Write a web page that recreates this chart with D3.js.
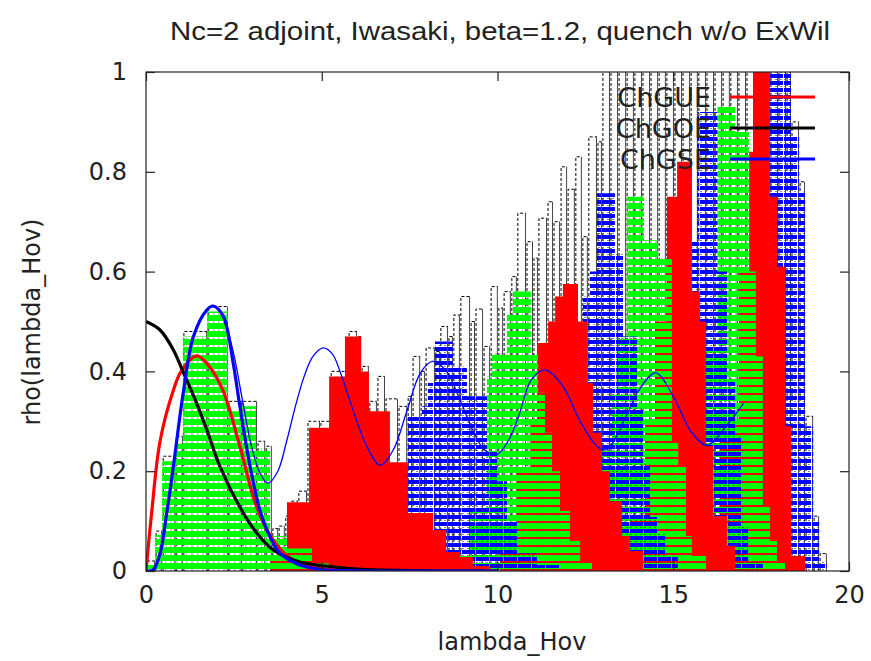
<!DOCTYPE html>
<html>
<head>
<meta charset="utf-8">
<script src="https://cdn.jsdelivr.net/npm/d3@7"></script>
<style>
  body { margin: 0; background: #fff; }
  svg { display: block; }
</style>
</head>
<body>
<div id="chart"></div>
<script>
// total density (dashed outline), bin edges + heights
var totalEdges = [0, 0.26, 0.46, 0.83, 1.05, 1.74, 2.33, 2.73, 3.16, 3.39, 3.58, 3.76, 3.95, 4.10, 4.32, 4.58, 4.95, 5.24, 5.75, 6.00,
  6.12, 6.34, 6.57, 6.80, 7.17, 7.43, 7.57, 7.80, 7.94, 8.22, 8.36, 8.59, 8.73, 8.93, 9.22, 9.36, 9.59, 9.79, 10.01, 10.16,
  10.38, 10.55, 10.81, 11.01, 11.15, 11.41, 11.58, 11.78, 11.98, 12.20, 12.40, 12.57, 12.83, 12.97, 13.20, 13.43, 13.66, 13.88,
  14.11, 14.34, 14.57, 14.79, 15.02, 15.25, 15.48, 15.70, 15.93, 16.16, 16.39, 16.61, 16.84, 17.07, 17.30, 17.53, 17.75, 17.98,
  18.21, 18.35, 18.58, 18.75, 18.98, 19.15, 19.37];
var totalHeights = [0.02, 0.08, 0.23, 0.27, 0.48, 0.53, 0.34, 0.34, 0.26, 0.25, 0.085, 0.09, 0.11, 0.14, 0.16, 0.30, 0.30, 0.40, 0.48,
  0.47, 0.41, 0.34, 0.39, 0.345, 0.33, 0.35, 0.43, 0.40, 0.447, 0.44, 0.49, 0.47, 0.513, 0.55, 0.50, 0.525, 0.45, 0.57, 0.527,
  0.56, 0.59, 0.717, 0.66, 0.627, 0.707, 0.74, 0.70, 0.81, 0.765, 0.83, 0.67, 0.87, 0.86,
  1.05, 1.05, 1.05, 1.05, 1.05, 1.05, 1.05, 1.05, 1.05, 1.05, 1.05, 1.05, 1.05, 1.05, 1.05, 1.05, 1.05, 1.05, 1.05, 1.05, 1.05,
  1.05, 1.05, 1.05, 0.9, 0.78, 0.31, 0.11, 0.035];

// k-th eigenvalue histograms
var g1Edges = [0, 0.26, 0.46, 0.83, 1.05, 1.74, 2.33, 2.73, 3.13, 3.53, 4.01, 4.72, 5.2];
var g1Heights = [0.012, 0.072, 0.22, 0.255, 0.47, 0.52, 0.32, 0.33, 0.245, 0.07, 0.045, 0.015];
var r2Edges = [3.53, 4.01, 4.64, 5.21, 5.66, 6.12, 6.34, 6.94, 7.45, 8.17, 8.54, 8.93, 9.30, 9.79];
var r2Heights = [0.03, 0.138, 0.287, 0.39, 0.47, 0.40, 0.32, 0.218, 0.116, 0.082, 0.038, 0.028, 0.01];
var b3Edges = [7.37, 7.45, 7.85, 8.02, 8.22, 8.73, 9.13, 9.70, 9.99, 10.27, 10.56, 11.12, 11.78];
var b3Heights = [0.21, 0.31, 0.33, 0.377, 0.46, 0.41, 0.35, 0.24, 0.18, 0.1, 0.035, 0.012];
var g4Edges = [8.65, 9.22, 9.70, 9.84, 10.27, 10.44, 10.95, 11.15, 11.35, 11.55, 11.78, 12.06, 12.35, 12.69];
var g4Heights = [0.03, 0.12, 0.39, 0.437, 0.517, 0.56, 0.437, 0.357, 0.277, 0.2, 0.12, 0.06, 0.02];
var r5Edges = [10.07, 10.56, 10.93, 11.15, 11.44, 11.64, 11.86, 12.29, 12.55, 12.72, 12.97, 13.20, 13.54, 13.77, 14.14];
var r5Heights = [0.08, 0.2, 0.3, 0.457, 0.50, 0.55, 0.575, 0.50, 0.377, 0.277, 0.2, 0.14, 0.07, 0.04];
var b6Edges = [11.21, 11.78, 12.15, 12.43, 12.63, 12.83, 13.34, 13.57, 13.97, 14.14, 14.34, 14.57, 14.77, 15.13];
var b6Heights = [0.1, 0.25, 0.4, 0.55, 0.6, 0.757, 0.637, 0.47, 0.326, 0.216, 0.108, 0.076, 0.03];
var g7Edges = [12.35, 12.97, 13.26, 13.43, 13.68, 14.14, 14.57, 14.96, 15.14, 15.36, 15.53, 15.93];
var g7Heights = [0.1, 0.25, 0.357, 0.47, 0.75, 0.663, 0.627, 0.26, 0.21, 0.07, 0.03];
var r8Edges = [13.77, 14.20, 14.48, 14.82, 15.11, 15.53, 15.76, 15.93, 16.13, 16.53, 16.76];
var r8Heights = [0.1, 0.3, 0.5, 0.75, 0.82, 0.56, 0.5, 0.25, 0.11, 0.05];
var b9Edges = [14.48, 15.11, 15.53, 15.68, 16.26, 16.56, 16.76, 16.96, 17.13, 17.55];
var b9Heights = [0.2, 0.4, 0.66, 0.92, 0.6, 0.38, 0.27, 0.09, 0.02];
var g10Edges = [15.19, 15.48, 15.76, 16.26, 16.76, 17.15, 17.35, 17.55, 17.75, 17.95, 18.18];
var g10Heights = [0.1, 0.25, 0.45, 0.93, 0.88, 0.6, 0.43, 0.13, 0.06, 0.02];
var r11Edges = [15.88, 16.33, 16.87, 17.16, 17.27, 17.75, 17.95, 18.18, 18.35, 18.75];
var r11Heights = [0.1, 0.3, 0.60, 0.84, 1.1, 0.75, 0.61, 0.29, 0.03];
var b12Edges = [16.62, 17.04, 17.47, 17.75, 18.35, 18.58, 18.75, 18.98, 19.15, 19.37];
var b12Heights = [0.1, 0.3, 0.6, 1.1, 0.87, 0.76, 0.29, 0.10, 0.02];

// RMT curves
var gueX = [0, 0.16, 0.4, 0.77, 1.0, 1.44, 1.8, 2.2, 2.67, 3.15, 3.62, 4.1, 4.6, 5.2, 6.0, 8.0, 10.0];
var gueY = [0, 0.116, 0.26, 0.36, 0.40, 0.431, 0.41, 0.36, 0.25, 0.128, 0.062, 0.026, 0.01, 0.003, 0.0005, 0, 0];
var goeX = [0, 0.4, 0.78, 1.05, 1.44, 1.73, 2.1, 2.67, 3.15, 3.62, 4.38, 5.1, 6.0, 8.0, 10.0];
var goeY = [0.50, 0.483, 0.443, 0.40, 0.336, 0.283, 0.21, 0.128, 0.076, 0.042, 0.018, 0.01, 0.004, 0.0005, 0];
var gseX = [0, 0.2, 0.4, 0.59, 0.78, 1.06, 1.35, 1.73, 1.91, 2.2, 2.48, 2.67, 2.96, 3.24, 3.53, 3.81, 4.38, 5.0, 6.0, 8.0, 10.0];
var gseY = [0, 0.002, 0.035, 0.116, 0.21, 0.357, 0.47, 0.523, 0.531, 0.51, 0.417, 0.33, 0.21, 0.122, 0.068, 0.036, 0.012, 0.003, 0.0005, 0, 0];
var gseFullX = [2.2, 2.48, 2.75, 3.0, 3.25, 3.47, 3.75, 4.0, 4.25, 4.5, 4.75, 5.04, 5.3, 5.52, 5.9, 6.28, 6.66, 7.03, 7.42, 7.8,
  8.15, 8.55, 8.93, 9.3, 9.6, 9.95, 10.3, 10.6, 10.96, 11.35, 11.86, 12.35, 12.83, 13.1, 13.7, 14.0, 14.5, 15.0, 15.5, 15.96, 16.5, 17.0];
var gseFullY = [0.51, 0.44, 0.34, 0.25, 0.195, 0.176, 0.2, 0.26, 0.33, 0.39, 0.43, 0.447, 0.435, 0.40, 0.32, 0.25, 0.212, 0.242, 0.32, 0.396,
  0.42, 0.40, 0.343, 0.282, 0.245, 0.232, 0.26, 0.31, 0.383, 0.403, 0.37, 0.30, 0.25, 0.243, 0.316, 0.36, 0.397, 0.35, 0.28, 0.252, 0.29, 0.336];

var legendNames = ["ChGUE", "ChGOE", "ChGSE"];
var legendColors = ["#ff0000", "#000000", "#0000ff"];
var xTicks = [0, 5, 10, 15, 20];
var yTicks = [0, 0.2, 0.4, 0.6, 0.8, 1];

var w = 871, h = 661;
var x = d3.scaleLinear().domain([0, 20]).range([146, 849]);
var y = d3.scaleLinear().domain([0, 1]).range([571, 72]);

var svg = d3.select("#chart").append("svg")
  .attr("width", w).attr("height", h)
  .style("font-family", "'DejaVu Sans', sans-serif");

svg.append("rect").attr("width", w).attr("height", h).attr("fill", "#fff");

var defs = svg.append("defs");
defs.append("clipPath").attr("id", "clip")
  .append("rect").attr("x", 146).attr("y", 72).attr("width", 703).attr("height", 499);

// green stripe fill
var pg = defs.append("pattern").attr("id", "patG").attr("patternUnits", "userSpaceOnUse")
  .attr("width", 16).attr("height", 8).attr("y", 571);
pg.append("rect").attr("width", 16).attr("height", 6).attr("fill", "#00ff00");
pg.append("line").attr("x1", 0).attr("x2", 16).attr("y1", 7).attr("y2", 7)
  .attr("stroke", "#333").attr("stroke-width", 1).attr("stroke-dasharray", "1.5,3.5").attr("opacity", 0.6);

// blue brick-like stripes
var pb = defs.append("pattern").attr("id", "patB").attr("patternUnits", "userSpaceOnUse")
  .attr("width", 14).attr("height", 7).attr("y", 571);
pb.append("rect").attr("width", 13).attr("height", 4).attr("fill", "#0000ff");
pb.append("line").attr("x1", 0).attr("x2", 14).attr("y1", 5.5).attr("y2", 5.5)
  .attr("stroke", "#333").attr("stroke-width", 1).attr("stroke-dasharray", "2,3").attr("opacity", 0.6);

var series = [
  { edges: g1Edges, heights: g1Heights, fill: "url(#patG)" },
  { edges: r2Edges, heights: r2Heights, fill: "#ff0000" },
  { edges: b3Edges, heights: b3Heights, fill: "url(#patB)" },
  { edges: g4Edges, heights: g4Heights, fill: "url(#patG)" },
  { edges: r5Edges, heights: r5Heights, fill: "#ff0000" },
  { edges: b6Edges, heights: b6Heights, fill: "url(#patB)" },
  { edges: g7Edges, heights: g7Heights, fill: "url(#patG)" },
  { edges: r8Edges, heights: r8Heights, fill: "#ff0000" },
  { edges: b9Edges, heights: b9Heights, fill: "url(#patB)" },
  { edges: g10Edges, heights: g10Heights, fill: "url(#patG)" },
  { edges: r11Edges, heights: r11Heights, fill: "#ff0000" },
  { edges: b12Edges, heights: b12Heights, fill: "url(#patB)" }
];

function stepPoints(edges, heights) {
  var pts = [[edges[0], 0]];
  heights.forEach(function(v, i) {
    pts.push([edges[i], v]);
    pts.push([edges[i + 1], v]);
  });
  pts.push([edges[edges.length - 1], 0]);
  return pts;
}

var stepLine = d3.line().x(function(d) { return x(d[0]); }).y(function(d) { return y(d[1]); });

var plot = svg.append("g").attr("clip-path", "url(#clip)");

// total histogram: dashed left/top, solid right edge
var bins = totalHeights.map(function(v, i) {
  return { x0: totalEdges[i], x1: totalEdges[i + 1], h: v };
});
var tot = plot.append("g");
tot.selectAll("path.dash").data(bins).join("path")
  .attr("class", "dash")
  .attr("d", function(d) {
    return "M" + (x(d.x0) + 1) + "," + y(0) + "V" + y(d.h) + "H" + x(d.x1);
  })
  .attr("fill", "none").attr("stroke", "#000").attr("stroke-width", 1)
  .attr("stroke-dasharray", "3,2");
tot.selectAll("line.solid").data(bins).join("line")
  .attr("class", "solid")
  .attr("x1", function(d) { return x(d.x1) - 0.5; })
  .attr("x2", function(d) { return x(d.x1) - 0.5; })
  .attr("y1", function(d) { return y(d.h); })
  .attr("y2", y(0))
  .attr("stroke", "#444").attr("stroke-width", 1);

// histograms: later eigenvalues underneath
plot.append("g").selectAll("path").data(series.slice().reverse()).join("path")
  .attr("d", function(d) { return stepLine(stepPoints(d.edges, d.heights)) + "Z"; })
  .attr("fill", function(d) { return d.fill; });

var smooth = d3.line().curve(d3.curveCatmullRom.alpha(0.5))
  .x(function(d) { return x(d[0]); }).y(function(d) { return y(d[1]); });

function pairs(xs, ys) { return xs.map(function(v, i) { return [v, ys[i]]; }); }

plot.append("path").attr("d", smooth(pairs(gseFullX, gseFullY)))
  .attr("fill", "none").attr("stroke", "#0000ff").attr("stroke-width", 1.3);

var curves = [
  { pts: pairs(gueX, gueY), color: "#ff0000" },
  { pts: pairs(goeX, goeY), color: "#000000" },
  { pts: pairs(gseX, gseY), color: "#0000ff" }
];
plot.selectAll("path.curve").data(curves).join("path")
  .attr("class", "curve")
  .attr("d", function(d) { return smooth(d.pts); })
  .attr("fill", "none").attr("stroke", function(d) { return d.color; })
  .attr("stroke-width", 3.2).attr("stroke-linejoin", "round");

// frame
svg.append("rect").attr("x", 146).attr("y", 72).attr("width", 703).attr("height", 499)
  .attr("fill", "none").attr("stroke", "#222").attr("stroke-width", 1.2);

// axes, ticks inward and mirrored
var fmtY = function(d) { return d === 0 || d === 1 ? String(d) : d.toFixed(1); };
var gy = svg.append("g").attr("transform", "translate(146,0)")
  .call(d3.axisLeft(y).tickValues(yTicks).tickSize(-9).tickPadding(19).tickFormat(fmtY));
svg.append("g").attr("transform", "translate(849,0)")
  .call(d3.axisRight(y).tickValues(yTicks).tickSize(-9).tickFormat(""));
var gx = svg.append("g").attr("transform", "translate(0,571)")
  .call(d3.axisBottom(x).tickValues(xTicks).tickSize(-9).tickPadding(15).tickFormat(d3.format("d")));
svg.append("g").attr("transform", "translate(0,72)")
  .call(d3.axisTop(x).tickValues(xTicks).tickSize(-9).tickFormat(""));

svg.selectAll(".domain").remove();
svg.selectAll(".tick line").attr("stroke", "#222").attr("stroke-width", 1.2);
svg.selectAll(".tick text").attr("font-size", 24).attr("fill", "#222")
  .attr("font-family", "'DejaVu Sans', sans-serif");

// title and axis labels
svg.append("text").attr("x", 500).attr("y", 40).attr("text-anchor", "middle")
  .attr("font-family", "'Liberation Sans Narrow', 'Arial Narrow', sans-serif")
  .style("font-stretch", "condensed")
  .attr("font-size", 26).attr("fill", "#222")
  .attr("textLength", 660).attr("lengthAdjust", "spacingAndGlyphs")
  .text("Nc=2 adjoint, Iwasaki, beta=1.2, quench w/o ExWil");

svg.append("text").attr("x", 512).attr("y", 650).attr("text-anchor", "middle")
  .attr("font-size", 24).attr("fill", "#222").text("lambda_Hov");

svg.append("text").attr("transform", "translate(40,322) rotate(-90)").attr("text-anchor", "middle")
  .attr("font-size", 24).attr("fill", "#222").text("rho(lambda_Hov)");

// legend
var leg = svg.append("g").selectAll("g").data(legendNames).join("g")
  .attr("transform", function(d, i) { return "translate(0," + (97 + i * 31) + ")"; });
leg.append("text").attr("x", 711).attr("dy", "0.36em").attr("text-anchor", "end")
  .attr("font-size", 27).attr("fill", "#222").text(function(d) { return d; });
leg.append("line").attr("x1", 730).attr("x2", 815)
  .attr("stroke", function(d, i) { return legendColors[i]; }).attr("stroke-width", 3);
</script>
</body>
</html>
